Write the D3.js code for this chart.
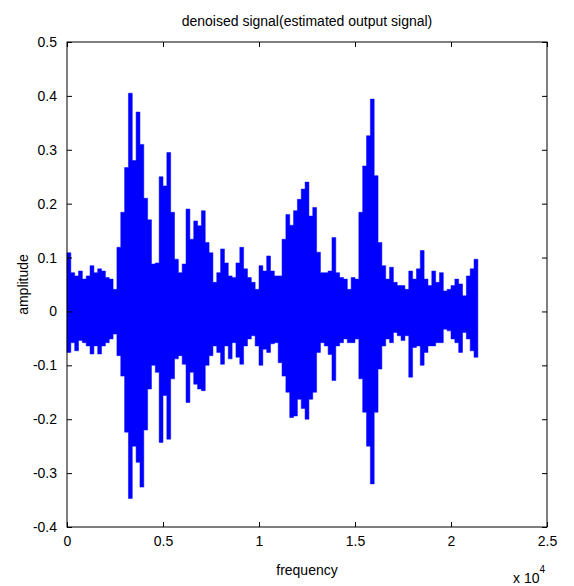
<!DOCTYPE html>
<html>
<head>
<meta charset="utf-8">
<script src="https://cdn.jsdelivr.net/npm/d3@7"></script>
<style>
  body { margin: 0; background: #fff; }
  text { font-family: "Liberation Sans", Arial, sans-serif; fill: #000; }
</style>
</head>
<body>
<svg id="chart" width="574" height="586"></svg>
<script>
// envelope of the signal, one pair per block of 200 samples (max / min)
var binSize = 200;
var hi = [0.109,0.072,0.066,0.075,0.06,0.066,0.085,0.072,0.079,0.075,
          0.063,0.06,0.041,0.119,0.184,0.267,0.405,0.28,0.37,0.31,
          0.21,0.17,0.088,0.09,0.25,0.233,0.295,0.184,0.097,0.072,
          0.088,0.19,0.134,0.168,0.159,0.187,0.128,0.109,0.054,0.072,
          0.116,0.09,0.066,0.063,0.09,0.119,0.079,0.063,0.054,0.041,
          0.085,0.075,0.103,0.075,0.066,0.066,0.134,0.18,0.16,0.187,
          0.208,0.227,0.24,0.177,0.193,0.11,0.072,0.072,0.075,0.137,
          0.072,0.063,0.06,0.041,0.063,0.06,0.184,0.27,0.326,0.394,
          0.252,0.128,0.085,0.06,0.082,0.054,0.048,0.048,0.041,0.075,
          0.06,0.079,0.113,0.06,0.048,0.075,0.054,0.072,0.038,0.041,
          0.048,0.06,0.051,0.029,0.066,0.079,0.097];
var lo = [-0.076,-0.058,-0.073,-0.054,-0.058,-0.064,-0.079,-0.064,-0.079,-0.064,
          -0.058,-0.051,-0.042,-0.082,-0.12,-0.224,-0.347,-0.25,-0.28,-0.326,
          -0.22,-0.144,-0.1,-0.113,-0.243,-0.156,-0.237,-0.125,-0.088,-0.082,
          -0.098,-0.169,-0.113,-0.135,-0.144,-0.147,-0.1,-0.082,-0.064,-0.076,
          -0.098,-0.064,-0.088,-0.058,-0.085,-0.098,-0.064,-0.051,-0.045,-0.064,
          -0.1,-0.07,-0.076,-0.06,-0.058,-0.095,-0.12,-0.15,-0.197,-0.194,
          -0.163,-0.18,-0.2,-0.163,-0.15,-0.076,-0.058,-0.064,-0.08,-0.128,
          -0.064,-0.058,-0.051,-0.058,-0.058,-0.051,-0.125,-0.187,-0.25,-0.32,
          -0.187,-0.107,-0.064,-0.051,-0.058,-0.039,-0.045,-0.054,-0.045,-0.122,
          -0.067,-0.064,-0.1,-0.076,-0.064,-0.064,-0.058,-0.058,-0.033,-0.036,
          -0.051,-0.058,-0.076,-0.039,-0.051,-0.073,-0.085];

var xTicks = [0, 5000, 10000, 15000, 20000, 25000];
var xTickLabels = ["0", "0.5", "1", "1.5", "2", "2.5"];
var yTicks = [-0.4, -0.3, -0.2, -0.1, 0, 0.1, 0.2, 0.3, 0.4, 0.5];
var yTickLabels = ["-0.4", "-0.3", "-0.2", "-0.1", "0", "0.1", "0.2", "0.3", "0.4", "0.5"];

var svg = d3.select("#chart");
var plotL = 67, plotR = 547, plotT = 42, plotB = 527;
var tickLen = 5;

var x = d3.scaleLinear().domain([0, 25000]).range([plotL, plotR]);
var y = d3.scaleLinear().domain([-0.4, 0.5]).range([plotB, plotT]);

// signal, drawn as one stepped band so the blocks don't leave seams
var pts = hi.map((d, i) => ({ s: i * binSize, hi: d, lo: lo[i] }));
pts.push({ s: hi.length * binSize, hi: hi[hi.length - 1], lo: lo[lo.length - 1] });

var band = d3.area()
  .curve(d3.curveStepAfter)
  .x(d => x(d.s))
  .y0(d => y(d.lo))
  .y1(d => y(d.hi));

svg.append("path")
  .datum(pts)
  .attr("d", band)
  .attr("fill", "#0000ff")
  .attr("stroke", "#0000ff")
  .attr("stroke-width", 0.5);

// box
svg.append("rect")
  .attr("x", plotL).attr("y", plotT)
  .attr("width", plotR - plotL).attr("height", plotB - plotT)
  .attr("fill", "none").attr("stroke", "#000").attr("stroke-width", 1);

// ticks pointing inward on all sides
var xAxisB = d3.axisBottom(x).tickValues(xTicks).tickSize(-tickLen).tickPadding(9)
  .tickFormat((d, i) => xTickLabels[i]);
var xAxisT = d3.axisTop(x).tickValues(xTicks).tickSize(-tickLen).tickFormat("");
var yAxisL = d3.axisLeft(y).tickValues(yTicks).tickSize(-tickLen).tickPadding(10)
  .tickFormat((d, i) => yTickLabels[i]);
var yAxisR = d3.axisRight(y).tickValues(yTicks).tickSize(-tickLen).tickFormat("");

function styleAxis(g) {
  g.select(".domain").remove();
  g.selectAll("line").attr("stroke", "#000");
  g.selectAll("text").attr("font-size", "14px").attr("fill", "#000");
}

svg.append("g").attr("transform", `translate(0,${plotB})`).call(xAxisB).call(styleAxis);
svg.append("g").attr("transform", `translate(0,${plotT})`).call(xAxisT).call(styleAxis);
svg.append("g").attr("transform", `translate(${plotL},0)`).call(yAxisL).call(styleAxis);
svg.append("g").attr("transform", `translate(${plotR},0)`).call(yAxisR).call(styleAxis);

// texts
svg.append("text")
  .attr("x", (plotL + plotR) / 2)
  .attr("y", 26)
  .attr("text-anchor", "middle")
  .style("font-size", "14px")
  .text("denoised signal(estimated output signal)");

svg.append("text")
  .attr("x", (plotL + plotR) / 2)
  .attr("y", 575)
  .attr("text-anchor", "middle")
  .style("font-size", "14px")
  .text("frequency");

svg.append("text")
  .attr("transform", `translate(28,${(plotT + plotB) / 2}) rotate(-90)`)
  .attr("text-anchor", "middle")
  .style("font-size", "14px")
  .text("amplitude");

var mult = svg.append("text")
  .attr("x", 513)
  .attr("y", 583)
  .style("font-size", "14px");
mult.append("tspan").text("x 10");
mult.append("tspan").attr("dy", -10).style("font-size", "10px").text("4");
</script>
</body>
</html>
